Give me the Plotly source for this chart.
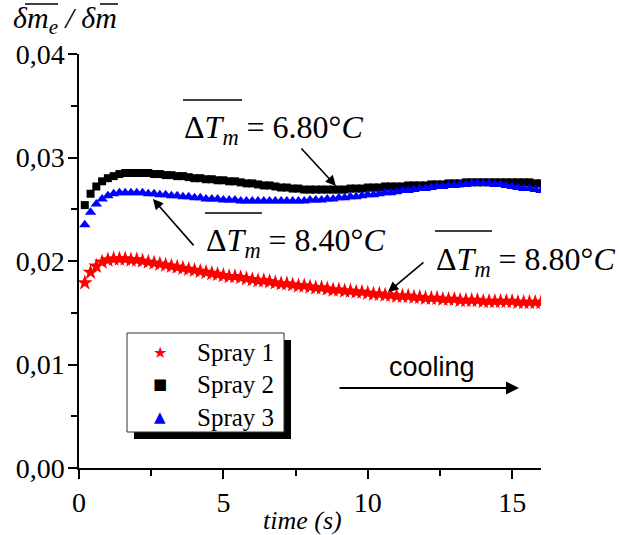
import plotly.graph_objects as go

# ---------------- data ----------------
time_s = [round(0.2 * i, 1) for i in range(1, 81)]

spray1 = [0.0179, 0.0189, 0.0195, 0.0199, 0.0201, 0.0202, 0.0202, 0.0202, 0.0201, 0.0201,
          0.0200, 0.0199, 0.0198, 0.0197, 0.0196, 0.0195, 0.0194, 0.0193, 0.0192, 0.0191,
          0.0190, 0.0189, 0.0188, 0.0187, 0.0186, 0.0185, 0.0185, 0.0184, 0.0183, 0.0182,
          0.0181, 0.0181, 0.0180, 0.0179, 0.0178, 0.0178, 0.0177, 0.0176, 0.0176, 0.0175,
          0.0174, 0.0174, 0.0173, 0.0172, 0.0172, 0.0171, 0.0171, 0.0170, 0.0170, 0.0169,
          0.0168, 0.0168, 0.0167, 0.0167, 0.0166, 0.0166, 0.0166, 0.0165, 0.0165, 0.0164,
          0.0164, 0.0164, 0.0163, 0.0163, 0.0163, 0.0162, 0.0162, 0.0162, 0.0162, 0.0161,
          0.0161, 0.0161, 0.0161, 0.0161, 0.0161, 0.0160, 0.0160, 0.0160, 0.0160, 0.0160]

spray2 = [0.0254, 0.0265, 0.0272, 0.0277, 0.0280, 0.0282, 0.0284, 0.0285, 0.0285, 0.0285,
          0.0285, 0.0285, 0.0284, 0.0284, 0.0283, 0.0283, 0.0282, 0.0282, 0.0281, 0.0280,
          0.0280, 0.0279, 0.0279, 0.0278, 0.0278, 0.0277, 0.0277, 0.0276, 0.0275, 0.0275,
          0.0274, 0.0273, 0.0273, 0.0272, 0.0271, 0.0271, 0.0270, 0.0270, 0.0269, 0.0269,
          0.0269, 0.0269, 0.0269, 0.0269, 0.0269, 0.0269, 0.0270, 0.0270, 0.0270, 0.0271,
          0.0271, 0.0271, 0.0272, 0.0272, 0.0272, 0.0272, 0.0273, 0.0273, 0.0273, 0.0273,
          0.0274, 0.0274, 0.0274, 0.0275, 0.0275, 0.0275, 0.0276, 0.0276, 0.0276, 0.0276,
          0.0276, 0.0276, 0.0276, 0.0276, 0.0276, 0.0276, 0.0276, 0.0276, 0.0275, 0.0275]

spray3 = [0.0235, 0.0247, 0.0255, 0.0260, 0.0263, 0.0265, 0.0266, 0.0266, 0.0266, 0.0266,
          0.0266, 0.0265, 0.0265, 0.0264, 0.0264, 0.0263, 0.0263, 0.0262, 0.0262, 0.0261,
          0.0261, 0.0260, 0.0260, 0.0260, 0.0259, 0.0259, 0.0259, 0.0258, 0.0258, 0.0258,
          0.0258, 0.0258, 0.0258, 0.0258, 0.0258, 0.0258, 0.0258, 0.0258, 0.0258, 0.0259,
          0.0259, 0.0259, 0.0260, 0.0260, 0.0261, 0.0261, 0.0262, 0.0262, 0.0263, 0.0264,
          0.0264, 0.0265, 0.0266, 0.0266, 0.0267, 0.0268, 0.0268, 0.0269, 0.0270, 0.0270,
          0.0271, 0.0272, 0.0272, 0.0273, 0.0273, 0.0274, 0.0274, 0.0275, 0.0275, 0.0275,
          0.0275, 0.0274, 0.0274, 0.0273, 0.0272, 0.0271, 0.0270, 0.0270, 0.0269, 0.0268]

series_names = ["Spray 1", "Spray 2", "Spray 3"]
series_colors = ["#ff0000", "#000000", "#0000ff"]
legend_glyphs = ["★", "■", "▲"]
x_ticks = [0, 5, 10, 15]
x_ticklabels = ["0", "5", "10", "15"]
y_ticks = [0.00, 0.01, 0.02, 0.03, 0.04]
y_ticklabels = ["0,00", "0,01", "0,02", "0,03", "0,04"]

# ---------------- figure ----------------
W, H = 619, 535
L, R, T, B = 79, 78, 54, 67
PW, PH = W - L - R, H - T - B


def px2paper(px, py):
    return (px - L) / PW, (H - B - py) / PH


SERIF = "Liberation Serif"

fig = go.Figure()
fig.add_trace(go.Scatter(x=time_s, y=spray1, mode="markers", name=series_names[0],
                         marker=dict(symbol="star", size=12, color=series_colors[0], line=dict(width=0))))
fig.add_trace(go.Scatter(x=time_s, y=spray2, mode="markers", name=series_names[1],
                         marker=dict(symbol="square", size=8, color=series_colors[1], line=dict(width=0))))
fig.add_trace(go.Scatter(x=time_s, y=spray3, mode="markers", name=series_names[2],
                         marker=dict(symbol="triangle-up", size=10, color=series_colors[2], line=dict(width=0))))

axis_common = dict(showgrid=False, zeroline=False, showline=True, linecolor="black", linewidth=1.5,
                   ticks="outside", ticklen=9, tickwidth=1.5, tickcolor="black", automargin=False,
                   tickfont=dict(family=SERIF, size=28, color="black"), mirror=False)

fig.update_xaxes(range=[0, 16], tickvals=x_ticks, ticktext=x_ticklabels,
                 minor=dict(dtick=2.5, tick0=0, ticks="outside", ticklen=6, tickwidth=1.5, tickcolor="black"),
                 **axis_common)
fig.update_yaxes(range=[0, 0.04], tickvals=y_ticks, ticktext=y_ticklabels, ticklabelstandoff=-2,
                 minor=dict(dtick=0.005, tick0=0, ticks="outside", ticklen=6, tickwidth=1.5, tickcolor="black"),
                 **axis_common)

annotations = []
shapes = []

# x-axis title
tx_, ty_ = px2paper(302, 520)
annotations.append(dict(xref="paper", yref="paper", x=tx_, y=ty_, xanchor="center", yanchor="middle",
                        text="<i>time (s)</i>", showarrow=False,
                        font=dict(family=SERIF, size=26, color="black")))

# y-axis label at top left
ax_, ay_ = px2paper(11, 20)
annotations.append(dict(xref="paper", yref="paper", x=ax_, y=ay_, xanchor="left", yanchor="middle",
                        text="<i>δm<sub>e</sub> / δm</i>", showarrow=False,
                        font=dict(family=SERIF, size=30, color="black")))
for (x0, x1, yy) in [(25, 58, 4), (100, 118, 4)]:
    p0 = px2paper(x0, yy)
    p1 = px2paper(x1, yy)
    shapes.append(dict(type="line", xref="paper", yref="paper", x0=p0[0], y0=p0[1], x1=p1[0], y1=p1[1],
                       line=dict(color="black", width=1.5)))

# temperature labels
labels = [("6.80", 183, 129, 100, 59), ("8.40", 205, 242, 213, 57), ("8.80", 435, 261, 231, 57)]
for val, lx, ly, oy, olen in labels:
    px_, py_ = px2paper(lx - 1, ly)
    annotations.append(dict(xref="paper", yref="paper", x=px_, y=py_, xanchor="left", yanchor="middle",
                            text="Δ<i>T</i><sub><i>m</i></sub> = " + val + "°<i>C</i>", showarrow=False,
                            font=dict(family=SERIF, size=32, color="black")))
    p0 = px2paper(lx, oy)
    p1 = px2paper(lx + olen, oy)
    shapes.append(dict(type="line", xref="paper", yref="paper", x0=p0[0], y0=p0[1], x1=p1[0], y1=p1[1],
                       line=dict(color="black", width=1.5)))

# pointer arrows (tip in data coords, tail offset in pixels)
arrows = [(8.9, 0.02725, -36, -39), (2.56, 0.0260, 42, 48), (10.7, 0.0170, 37, -31)]
for tx, ty, dx, dy in arrows:
    annotations.append(dict(x=tx, y=ty, xref="x", yref="y", ax=dx, ay=dy, axref="pixel", ayref="pixel",
                            text="", showarrow=True, arrowhead=2, arrowsize=1.3, arrowwidth=1.6,
                            arrowcolor="black"))

# cooling label and arrow
cx, cy = px2paper(432, 367)
annotations.append(dict(xref="paper", yref="paper", x=cx, y=cy, text="cooling", showarrow=False,
                        xanchor="center", yanchor="middle",
                        font=dict(family="Liberation Sans", size=27, color="black")))
tx, ty = px2paper(519, 388)
annotations.append(dict(xref="paper", yref="paper", x=tx, y=ty, ax=-181, ay=0, axref="pixel", ayref="pixel",
                        text="", showarrow=True, arrowhead=2, arrowsize=1.3, arrowwidth=2, arrowcolor="black"))

# hand-drawn legend box with drop shadow
s0 = px2paper(134, 340)
s1 = px2paper(291, 439)
shapes.append(dict(type="rect", xref="paper", yref="paper", x0=s0[0], y0=s1[1], x1=s1[0], y1=s0[1],
                   fillcolor="black", line=dict(width=0), layer="above"))
b0 = px2paper(127, 333)
b1 = px2paper(284, 432)
shapes.append(dict(type="rect", xref="paper", yref="paper", x0=b0[0], y0=b1[1], x1=b1[0], y1=b0[1],
                   fillcolor="white", line=dict(color="#333333", width=1), layer="above"))
row_y = [352, 384, 417]
glyph_sizes = [16, 15, 15]
for i in range(3):
    gx, gy = px2paper(160, row_y[i])
    annotations.append(dict(xref="paper", yref="paper", x=gx, y=gy, xanchor="center", yanchor="middle",
                            text=legend_glyphs[i], showarrow=False,
                            font=dict(family="DejaVu Sans", size=glyph_sizes[i], color=series_colors[i])))
    tx_, ty_ = px2paper(195, row_y[i])
    annotations.append(dict(xref="paper", yref="paper", x=tx_, y=ty_, xanchor="left", yanchor="middle",
                            text=series_names[i], showarrow=False,
                            font=dict(family=SERIF, size=25, color="black")))

fig.update_layout(
    width=W, height=H,
    font=dict(family=SERIF, color="black"),
    margin=dict(l=L, r=R, t=T, b=B, pad=0),
    paper_bgcolor="white", plot_bgcolor="white",
    showlegend=False,
    annotations=annotations,
    shapes=shapes,
)

fig.write_html("out.html", config={"displayModeBar": False},
               post_script="document.body.style.margin='0px';")
